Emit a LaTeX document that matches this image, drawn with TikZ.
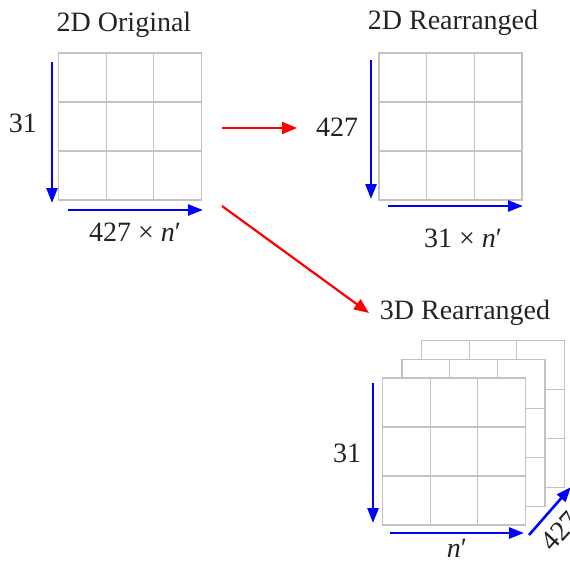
\documentclass[tikz,border=0pt]{standalone}
\usepackage{fontspec}
\setmainfont{Liberation Serif}
\usetikzlibrary{calc,arrows.meta}
\definecolor{gridgray}{RGB}{195,195,195}
\definecolor{txtgray}{RGB}{35,35,35}
\newcommand\cellgrid[1]{%
  \foreach \f in {1,2} {%
    \draw[gridline] ($(#1.north west)!\f/3!(#1.north east)$) -- ($(#1.south west)!\f/3!(#1.south east)$);
    \draw[gridline] ($(#1.north west)!\f/3!(#1.south west)$) -- ($(#1.north east)!\f/3!(#1.south east)$);
  }%
}
\begin{document}
\begin{tikzpicture}[x=1pt,y=-1pt,
  gridline/.style={draw=gridgray, line width=1.1pt},
  gridbox/.style={draw=gridgray, line width=1.1pt, fill=white, inner sep=0pt, outer sep=0pt,
    minimum width=143pt, minimum height=147pt},
  lbl/.style={text=txtgray, font=\fontsize{28}{32}\selectfont, inner sep=0pt},
  dimarrow/.style={draw=blue, line width=2.6pt, -{Triangle[length=15pt,width=11pt]}},
  flowarrow/.style={draw=red, line width=2.2pt, -{Triangle[length=15pt,width=12pt]}}
]
\clip (0,0) rectangle (570,568);
\useasboundingbox (0,0) rectangle (570,568);

% 2D Original
\node[gridbox] (g1) at (130,126.5) {};
\cellgrid{g1}
\node[lbl] (t1) at (124,25) {2D Original};
\coordinate (v1s) at (52,62);  \coordinate (v1e) at (52,203);
\coordinate (h1s) at (68,210); \coordinate (h1e) at (203,210);
\draw[dimarrow] (v1s) -- (v1e);
\draw[dimarrow] (h1s) -- (h1e);
\node[lbl] (l1a) at (23,123) {31};
\node[lbl] (l1b) at (135,232) {427 × \textit{n}′};

% 2D Rearranged
\node[gridbox] (g2) at (450.5,126.5) {};
\cellgrid{g2}
\node[lbl] (t2) at (453,23) {2D Rearranged};
\coordinate (v2s) at (371,60);  \coordinate (v2e) at (371,199);
\coordinate (h2s) at (388,206); \coordinate (h2e) at (523,206);
\draw[dimarrow] (v2s) -- (v2e);
\draw[dimarrow] (h2s) -- (h2e);
\node[lbl] (l2a) at (337,127) {427};
\node[lbl] (l2b) at (463,238) {31 × \textit{n}′};

% 3D Rearranged
\node[gridbox] (g3c) at (493,414) {};
\cellgrid{g3c}
\node[gridbox] (g3b) at (473.5,433) {};
\cellgrid{g3b}
\node[gridbox] (g3a) at (454,451.5) {};
\cellgrid{g3a}
\node[lbl] (t3) at (465,313) {3D Rearranged};
\coordinate (v3s) at (373,383);  \coordinate (v3e) at (373,523);
\coordinate (h3s) at (390,533);  \coordinate (h3e) at (524,533);
\coordinate (d3s) at (529,535);  \coordinate (d3e) at (571,487);
\draw[dimarrow] (v3s) -- (v3e);
\draw[dimarrow] (h3s) -- (h3e);
\draw[dimarrow] (d3s) -- (d3e);
\node[lbl] (l3a) at (347,453) {31};
\node[lbl] (l3b) at (457,548) {\textit{n}′};
\node[lbl, rotate=48] (l3c) at (560,531) {427};

% flow arrows
\coordinate (r1s) at (222,128); \coordinate (r1e) at (297,128);
\coordinate (r2s) at (222,206); \coordinate (r2e) at (369,313);
\draw[flowarrow] (r1s) -- (r1e);
\draw[flowarrow] (r2s) -- (r2e);
\end{tikzpicture}
\end{document}
